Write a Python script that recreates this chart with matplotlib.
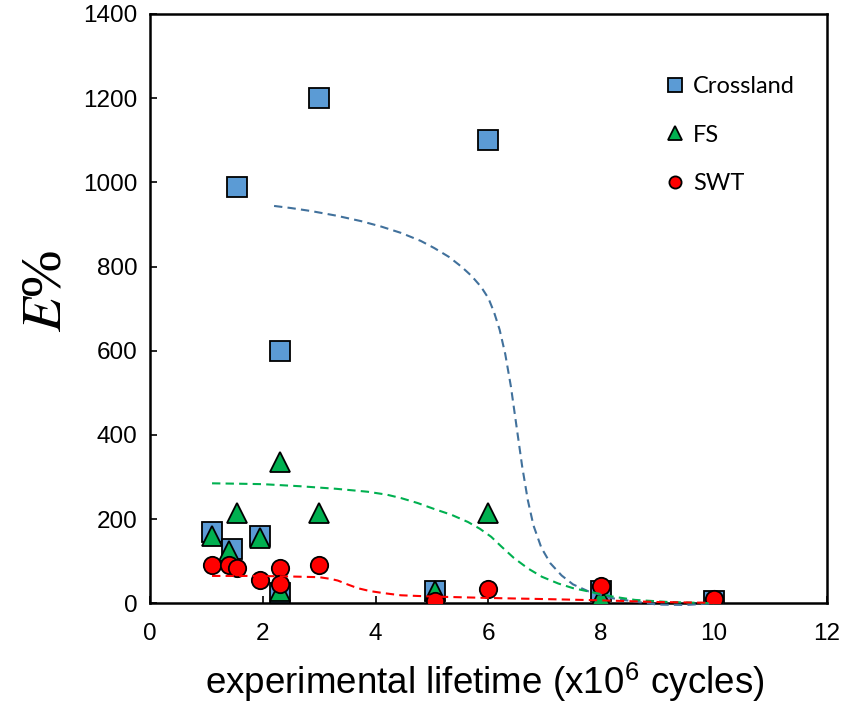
import matplotlib.pyplot as plt

plt.rcParams['font.family'] = 'Liberation Sans'
plt.rcParams['mathtext.fontset'] = 'stix'

# Crossland criterion error
crossland_life = [1.1, 1.45, 1.95, 2.3, 1.55, 2.3, 3.0, 6.0, 5.05, 8.0, 10.0]
crossland_err = [170, 130, 160, 25, 990, 600, 1200, 1100, 30, 30, 5]

# Fatemi-Socie criterion error
fs_life = [1.1, 1.4, 1.55, 1.95, 2.3, 2.3, 3.0, 6.0, 5.05, 8.0, 10.0]
fs_err = [160, 125, 215, 155, 335, 30, 215, 215, 30, 15, 3]

# Smith-Watson-Topper criterion error
swt_life = [1.1, 1.4, 1.55, 1.95, 2.3, 2.3, 3.0, 5.05, 6.0, 8.0, 10.0]
swt_err = [90, 90, 85, 55, 85, 45, 90, 5, 35, 40, 10]

# trend curves
crossland_fit_x = [2.2, 2.5, 2.85, 3.3, 3.74, 4.1, 4.45, 4.8, 5.04, 5.3,
                   5.52, 5.7, 5.87, 6.0, 6.1, 6.2, 6.3, 6.4, 6.5, 6.6,
                   6.7, 6.8, 6.94, 7.1, 7.3, 7.5, 7.78, 8.2, 8.6, 9.0,
                   9.5, 10.0]
crossland_fit_y = [944, 939, 932, 921, 908, 895, 880, 861, 844, 823,
                   800, 778, 752, 725, 692, 650, 592, 515, 420, 325,
                   245, 185, 132, 95, 66, 45, 28, 12, 4, -3,
                   -4, 0]
fs_fit_x = [1.1, 1.6, 2.0, 2.67, 3.3, 3.86, 4.2, 4.45, 4.75, 5.04,
            5.35, 5.64, 5.85, 6.05, 6.23, 6.45, 6.7, 6.95, 7.24, 7.5,
            7.78, 8.2, 8.6, 9.2, 10.0]
fs_fit_y = [285, 284, 283, 278, 272, 265, 258, 250, 238, 224,
            210, 193, 177, 158, 135, 108, 83, 63, 47, 36,
            28, 16, 8, 3, 0]
swt_fit_x = [1.1, 1.5, 1.8, 2.1, 2.37, 2.7, 3.0, 3.2, 3.33, 3.5,
             3.68, 3.9, 4.15, 4.45, 5.0, 5.6, 6.23, 7.0, 8.0, 9.0, 10.0]
swt_fit_y = [65, 65, 65, 64.5, 64, 63, 62, 58, 54, 45,
             36, 29, 24, 19, 16, 14, 12, 10, 7, 3, 1]

fig = plt.figure(figsize=(8.49, 7.07), dpi=100)
ax = fig.add_axes([0.1767, 0.1467, 0.797, 0.8335])

ax.plot(crossland_life, crossland_err, linestyle='none', marker='s', ms=14,
        mfc='#5B9BD5', mec='black', mew=1.3, label='Crossland', zorder=3)
ax.plot(fs_life, fs_err, linestyle='none', marker='^', ms=14.5,
        mfc='#00B050', mec='black', mew=1.3, label='FS', zorder=4)
ax.plot(swt_life, swt_err, linestyle='none', marker='o', ms=12.5,
        mfc='#FF0000', mec='black', mew=1.3, label='SWT', zorder=5)

# dashed trend lines
for fx, fy, c in [(crossland_fit_x, crossland_fit_y, '#41719C'),
                  (fs_fit_x, fs_fit_y, '#00B050'),
                  (swt_fit_x, swt_fit_y, '#FF0000')]:
    ax.plot(fx, fy, '--', color=c, lw=1.5, dashes=(4, 2.5),
            clip_on=False, zorder=6)

ax.set_xlim(0, 12)
ax.set_ylim(0, 1400)
ax.set_xticks(range(0, 13, 2))
ax.set_yticks(range(0, 1401, 200))
ax.tick_params(direction='in', length=5, width=1.2, labelsize=17.5)
ax.tick_params(axis='y', pad=9)
ax.tick_params(axis='x', pad=14)
for s in ax.spines.values():
    s.set_linewidth(1.8)

ax.set_xlabel('experimental lifetime (x10$^\\mathregular{6}$ cycles)', fontsize=26.5)
ax.xaxis.set_label_coords(0.495, -0.097)
ax.set_ylabel('$E$%', fontsize=41, family='Liberation Serif')
ax.yaxis.set_label_coords(-0.115, 0.53)

leg = ax.legend(loc='upper left', bbox_to_anchor=(0.741, 0.914), frameon=False,
                borderpad=0, handletextpad=0.25, labelspacing=1.15,
                markerscale=0.7, handlelength=1.0,
                prop={'family': 'Lato', 'size': 17})

fig.savefig('out.png', dpi=100)
